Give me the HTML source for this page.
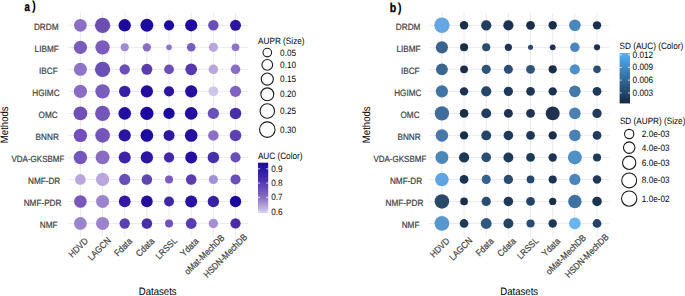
<!DOCTYPE html>
<html><head><meta charset="utf-8"><style>
html,body{margin:0;padding:0;background:#fff;}
svg{display:block;font-family:"Liberation Sans", sans-serif;text-rendering:geometricPrecision;}
</style></head><body>
<svg width="685" height="296" viewBox="0 0 685 296">
<rect width="685" height="296" fill="#fff"/>
<g stroke="#ebebeb" stroke-width="1" shape-rendering="auto"><line x1="67.40" y1="25.30" x2="248.00" y2="25.30" /><line x1="67.40" y1="47.32" x2="248.00" y2="47.32" /><line x1="67.40" y1="69.34" x2="248.00" y2="69.34" /><line x1="67.40" y1="91.36" x2="248.00" y2="91.36" /><line x1="67.40" y1="113.38" x2="248.00" y2="113.38" /><line x1="67.40" y1="135.40" x2="248.00" y2="135.40" /><line x1="67.40" y1="157.42" x2="248.00" y2="157.42" /><line x1="67.40" y1="179.44" x2="248.00" y2="179.44" /><line x1="67.40" y1="201.46" x2="248.00" y2="201.46" /><line x1="67.40" y1="223.48" x2="248.00" y2="223.48" /><line x1="80.40" y1="13.00" x2="80.40" y2="236.70" /><line x1="102.56" y1="13.00" x2="102.56" y2="236.70" /><line x1="124.72" y1="13.00" x2="124.72" y2="236.70" /><line x1="146.88" y1="13.00" x2="146.88" y2="236.70" /><line x1="169.04" y1="13.00" x2="169.04" y2="236.70" /><line x1="191.20" y1="13.00" x2="191.20" y2="236.70" /><line x1="213.36" y1="13.00" x2="213.36" y2="236.70" /><line x1="235.52" y1="13.00" x2="235.52" y2="236.70" /></g><circle cx="80.40" cy="25.30" r="6.35" fill="#8a6fc4"/><circle cx="102.56" cy="25.30" r="7.65" fill="#6a4fb0"/><circle cx="124.72" cy="25.30" r="6.18" fill="#1e0a9a"/><circle cx="146.88" cy="25.30" r="6.43" fill="#1a0aa0"/><circle cx="169.04" cy="25.30" r="5.08" fill="#1a0a9e"/><circle cx="191.20" cy="25.30" r="6.08" fill="#200c9c"/><circle cx="213.36" cy="25.30" r="5.20" fill="#6a4fb8"/><circle cx="235.52" cy="25.30" r="5.50" fill="#2e16a0"/><circle cx="80.40" cy="47.32" r="6.62" fill="#7a5cbc"/><circle cx="102.56" cy="47.32" r="7.17" fill="#7a5cbc"/><circle cx="124.72" cy="47.32" r="4.04" fill="#a08ad0"/><circle cx="146.88" cy="47.32" r="4.15" fill="#8a6cc4"/><circle cx="169.04" cy="47.32" r="2.81" fill="#8e74c8"/><circle cx="191.20" cy="47.32" r="4.27" fill="#7a5cbc"/><circle cx="213.36" cy="47.32" r="4.59" fill="#b8a6dc"/><circle cx="235.52" cy="47.32" r="3.86" fill="#8e72c8"/><circle cx="80.40" cy="69.34" r="6.51" fill="#8e74c8"/><circle cx="102.56" cy="69.34" r="7.65" fill="#6a4fb4"/><circle cx="124.72" cy="69.34" r="5.20" fill="#6a50b4"/><circle cx="146.88" cy="69.34" r="5.47" fill="#5a3caa"/><circle cx="169.04" cy="69.34" r="4.90" fill="#6a50b8"/><circle cx="191.20" cy="69.34" r="5.86" fill="#5438ac"/><circle cx="213.36" cy="69.34" r="4.74" fill="#b8a6dc"/><circle cx="235.52" cy="69.34" r="4.75" fill="#8a6cc4"/><circle cx="80.40" cy="91.36" r="6.65" fill="#8a6cc4"/><circle cx="102.56" cy="91.36" r="7.22" fill="#7a5cbc"/><circle cx="124.72" cy="91.36" r="5.72" fill="#3a20a4"/><circle cx="146.88" cy="91.36" r="6.14" fill="#240ea0"/><circle cx="169.04" cy="91.36" r="5.10" fill="#2c14a0"/><circle cx="191.20" cy="91.36" r="6.09" fill="#2410a0"/><circle cx="213.36" cy="91.36" r="4.93" fill="#d0c4e8"/><circle cx="235.52" cy="91.36" r="5.63" fill="#8060c0"/><circle cx="80.40" cy="113.38" r="6.90" fill="#6e50b8"/><circle cx="102.56" cy="113.38" r="7.51" fill="#7456b8"/><circle cx="124.72" cy="113.38" r="6.34" fill="#2410a0"/><circle cx="146.88" cy="113.38" r="6.63" fill="#1a08a0"/><circle cx="169.04" cy="113.38" r="5.63" fill="#1a0aa0"/><circle cx="191.20" cy="113.38" r="6.34" fill="#2410a0"/><circle cx="213.36" cy="113.38" r="5.60" fill="#6a50b8"/><circle cx="235.52" cy="113.38" r="5.75" fill="#4a30a8"/><circle cx="80.40" cy="135.40" r="6.70" fill="#7050b8"/><circle cx="102.56" cy="135.40" r="7.31" fill="#7456b8"/><circle cx="124.72" cy="135.40" r="6.10" fill="#2a14a0"/><circle cx="146.88" cy="135.40" r="6.33" fill="#1e0c9e"/><circle cx="169.04" cy="135.40" r="5.51" fill="#2e18a0"/><circle cx="191.20" cy="135.40" r="6.34" fill="#2410a0"/><circle cx="213.36" cy="135.40" r="5.25" fill="#8a70c4"/><circle cx="235.52" cy="135.40" r="5.77" fill="#5a40b0"/><circle cx="80.40" cy="157.42" r="6.71" fill="#7456bc"/><circle cx="102.56" cy="157.42" r="6.95" fill="#8a6cc4"/><circle cx="124.72" cy="157.42" r="6.03" fill="#3e22a8"/><circle cx="146.88" cy="157.42" r="6.15" fill="#2e16a0"/><circle cx="169.04" cy="157.42" r="5.14" fill="#4428a8"/><circle cx="191.20" cy="157.42" r="5.99" fill="#2410a0"/><circle cx="213.36" cy="157.42" r="5.75" fill="#4830a8"/><circle cx="235.52" cy="157.42" r="5.05" fill="#6a4eb8"/><circle cx="80.40" cy="179.44" r="5.34" fill="#b8a6dc"/><circle cx="102.56" cy="179.44" r="6.59" fill="#b8a6dc"/><circle cx="124.72" cy="179.44" r="5.60" fill="#6a4eb8"/><circle cx="146.88" cy="179.44" r="5.28" fill="#6044b0"/><circle cx="169.04" cy="179.44" r="4.02" fill="#7c5cbc"/><circle cx="191.20" cy="179.44" r="5.27" fill="#5a3cb0"/><circle cx="213.36" cy="179.44" r="4.55" fill="#a490d4"/><circle cx="235.52" cy="179.44" r="5.05" fill="#6a4eb8"/><circle cx="80.40" cy="201.46" r="6.32" fill="#7858bc"/><circle cx="102.56" cy="201.46" r="6.53" fill="#9c84cc"/><circle cx="124.72" cy="201.46" r="5.86" fill="#3418a4"/><circle cx="146.88" cy="201.46" r="5.84" fill="#240ea0"/><circle cx="169.04" cy="201.46" r="4.98" fill="#4028a8"/><circle cx="191.20" cy="201.46" r="6.00" fill="#2812a0"/><circle cx="213.36" cy="201.46" r="5.72" fill="#3a20a4"/><circle cx="235.52" cy="201.46" r="5.68" fill="#1a08a0"/><circle cx="80.40" cy="223.48" r="6.38" fill="#9c84cc"/><circle cx="102.56" cy="223.48" r="6.53" fill="#9c84cc"/><circle cx="124.72" cy="223.48" r="5.17" fill="#5a40b0"/><circle cx="146.88" cy="223.48" r="5.30" fill="#4a30a8"/><circle cx="169.04" cy="223.48" r="4.00" fill="#7050b8"/><circle cx="191.20" cy="223.48" r="5.42" fill="#5a3cb0"/><circle cx="213.36" cy="223.48" r="4.70" fill="#a48ed4"/><circle cx="235.52" cy="223.48" r="5.14" fill="#4a2ca8"/><g font-size="8.2" fill="#404040" stroke="#404040" stroke-width="0.18"><text transform="translate(33.90,29.60) scale(1,1.12)">DRDM</text><text transform="translate(34.60,51.62) scale(1,1.12)">LIBMF</text><text transform="translate(39.00,73.64) scale(1,1.12)">IBCF</text><text transform="translate(32.30,95.66) scale(1,1.12)">HGIMC</text><text transform="translate(38.60,117.68) scale(1,1.12)">OMC</text><text transform="translate(35.60,139.70) scale(1,1.12)">BNNR</text><text font-size="8.0" transform="translate(11.50,161.72) scale(1,1.12)">VDA-GKSBMF</text><text transform="translate(28.00,183.74) scale(1,1.12)">NMF-DR</text><text transform="translate(23.70,205.76) scale(1,1.12)">NMF-PDR</text><text transform="translate(39.80,227.78) scale(1,1.12)">NMF</text></g><g font-size="8.2" fill="#404040" stroke="#404040" stroke-width="0.18"><text text-anchor="end" transform="translate(88.64,241.63) rotate(-45) scale(1,1.12)">HDVD</text><text text-anchor="end" transform="translate(111.39,241.05) rotate(-45) scale(1,1.12)">LAGCN</text><text text-anchor="end" transform="translate(132.69,241.89) rotate(-45) scale(1,1.12)">Fdata</text><text text-anchor="end" transform="translate(154.96,241.78) rotate(-45) scale(1,1.12)">Cdata</text><text text-anchor="end" transform="translate(177.61,241.31) rotate(-45) scale(1,1.12)">LRSSL</text><text text-anchor="end" transform="translate(199.23,241.84) rotate(-45) scale(1,1.12)">Ydata</text><text text-anchor="end" transform="translate(225.04,238.27) rotate(-45) scale(1,1.12)">oMat-MechDB</text><text text-anchor="end" transform="translate(247.80,237.70) rotate(-45) scale(1,1.12)">HSDN-MechDB</text></g><g stroke="#ebebeb" stroke-width="1" shape-rendering="auto"><line x1="428.90" y1="25.30" x2="609.50" y2="25.30" /><line x1="428.90" y1="47.32" x2="609.50" y2="47.32" /><line x1="428.90" y1="69.34" x2="609.50" y2="69.34" /><line x1="428.90" y1="91.36" x2="609.50" y2="91.36" /><line x1="428.90" y1="113.38" x2="609.50" y2="113.38" /><line x1="428.90" y1="135.40" x2="609.50" y2="135.40" /><line x1="428.90" y1="157.42" x2="609.50" y2="157.42" /><line x1="428.90" y1="179.44" x2="609.50" y2="179.44" /><line x1="428.90" y1="201.46" x2="609.50" y2="201.46" /><line x1="428.90" y1="223.48" x2="609.50" y2="223.48" /><line x1="441.90" y1="13.00" x2="441.90" y2="236.70" /><line x1="464.06" y1="13.00" x2="464.06" y2="236.70" /><line x1="486.22" y1="13.00" x2="486.22" y2="236.70" /><line x1="508.38" y1="13.00" x2="508.38" y2="236.70" /><line x1="530.54" y1="13.00" x2="530.54" y2="236.70" /><line x1="552.70" y1="13.00" x2="552.70" y2="236.70" /><line x1="574.86" y1="13.00" x2="574.86" y2="236.70" /><line x1="597.02" y1="13.00" x2="597.02" y2="236.70" /></g><circle cx="441.90" cy="25.30" r="7.69" fill="#62a6e2"/><circle cx="464.06" cy="25.30" r="4.20" fill="#1a2e48"/><circle cx="486.22" cy="25.30" r="5.12" fill="#213c5c"/><circle cx="508.38" cy="25.30" r="5.11" fill="#1c3250"/><circle cx="530.54" cy="25.30" r="4.35" fill="#1a2e48"/><circle cx="552.70" cy="25.30" r="4.20" fill="#1a2e48"/><circle cx="574.86" cy="25.30" r="5.79" fill="#4a86bc"/><circle cx="597.02" cy="25.30" r="4.16" fill="#1a3250"/><circle cx="441.90" cy="47.32" r="6.09" fill="#3a6490"/><circle cx="464.06" cy="47.32" r="4.05" fill="#1a2e48"/><circle cx="486.22" cy="47.32" r="4.05" fill="#2a4c70"/><circle cx="508.38" cy="47.32" r="3.61" fill="#1e3654"/><circle cx="530.54" cy="47.32" r="2.55" fill="#2a4a6e"/><circle cx="552.70" cy="47.32" r="2.91" fill="#1c3250"/><circle cx="574.86" cy="47.32" r="4.74" fill="#4a86bc"/><circle cx="597.02" cy="47.32" r="3.06" fill="#1c3250"/><circle cx="441.90" cy="69.34" r="5.94" fill="#3a6690"/><circle cx="464.06" cy="69.34" r="3.90" fill="#1a2e48"/><circle cx="486.22" cy="69.34" r="4.56" fill="#2e5478"/><circle cx="508.38" cy="69.34" r="4.50" fill="#2a4e74"/><circle cx="530.54" cy="69.34" r="4.41" fill="#2e5478"/><circle cx="552.70" cy="69.34" r="4.05" fill="#1a2e48"/><circle cx="574.86" cy="69.34" r="5.11" fill="#5090c8"/><circle cx="597.02" cy="69.34" r="3.80" fill="#2a4e74"/><circle cx="441.90" cy="91.36" r="6.11" fill="#4074a4"/><circle cx="464.06" cy="91.36" r="4.21" fill="#1c3250"/><circle cx="486.22" cy="91.36" r="5.09" fill="#264668"/><circle cx="508.38" cy="91.36" r="4.62" fill="#1e3a5a"/><circle cx="530.54" cy="91.36" r="4.36" fill="#1e3654"/><circle cx="552.70" cy="91.36" r="4.21" fill="#1c3250"/><circle cx="574.86" cy="91.36" r="5.77" fill="#4478a8"/><circle cx="597.02" cy="91.36" r="4.37" fill="#1e3a5a"/><circle cx="441.90" cy="113.38" r="7.15" fill="#3e6e9c"/><circle cx="464.06" cy="113.38" r="4.35" fill="#1a2e48"/><circle cx="486.22" cy="113.38" r="4.92" fill="#203c5c"/><circle cx="508.38" cy="113.38" r="4.46" fill="#1c3250"/><circle cx="530.54" cy="113.38" r="4.36" fill="#1c3250"/><circle cx="552.70" cy="113.38" r="6.96" fill="#1c3250"/><circle cx="574.86" cy="113.38" r="5.78" fill="#4a80b2"/><circle cx="597.02" cy="113.38" r="4.62" fill="#203c5c"/><circle cx="441.90" cy="135.40" r="6.27" fill="#4678a8"/><circle cx="464.06" cy="135.40" r="4.15" fill="#1a2e48"/><circle cx="486.22" cy="135.40" r="4.94" fill="#264466"/><circle cx="508.38" cy="135.40" r="4.77" fill="#1e3a5a"/><circle cx="530.54" cy="135.40" r="4.37" fill="#1e3856"/><circle cx="552.70" cy="135.40" r="4.15" fill="#1a2e48"/><circle cx="574.86" cy="135.40" r="5.78" fill="#4a80b2"/><circle cx="597.02" cy="135.40" r="4.37" fill="#203c5c"/><circle cx="441.90" cy="157.42" r="6.49" fill="#4a86ba"/><circle cx="464.06" cy="157.42" r="5.12" fill="#1e3858"/><circle cx="486.22" cy="157.42" r="4.80" fill="#2a4e72"/><circle cx="508.38" cy="157.42" r="4.97" fill="#1e3a5a"/><circle cx="530.54" cy="157.42" r="4.37" fill="#1e3a5a"/><circle cx="552.70" cy="157.42" r="4.21" fill="#1c3454"/><circle cx="574.86" cy="157.42" r="6.96" fill="#5090c8"/><circle cx="597.02" cy="157.42" r="4.02" fill="#1e3a5a"/><circle cx="441.90" cy="179.44" r="6.79" fill="#5ea4e0"/><circle cx="464.06" cy="179.44" r="4.36" fill="#1c3454"/><circle cx="486.22" cy="179.44" r="4.58" fill="#36628e"/><circle cx="508.38" cy="179.44" r="4.65" fill="#2a4c70"/><circle cx="530.54" cy="179.44" r="3.89" fill="#264a6c"/><circle cx="552.70" cy="179.44" r="4.06" fill="#1c3454"/><circle cx="574.86" cy="179.44" r="5.64" fill="#4a86bc"/><circle cx="597.02" cy="179.44" r="4.22" fill="#1e3a5a"/><circle cx="441.90" cy="201.46" r="7.25" fill="#2a4a6c"/><circle cx="464.06" cy="201.46" r="3.85" fill="#1a2e48"/><circle cx="486.22" cy="201.46" r="4.65" fill="#2a4c70"/><circle cx="508.38" cy="201.46" r="4.77" fill="#1e3858"/><circle cx="530.54" cy="201.46" r="4.38" fill="#244466"/><circle cx="552.70" cy="201.46" r="3.60" fill="#1a2e48"/><circle cx="574.86" cy="201.46" r="6.71" fill="#3e72a2"/><circle cx="597.02" cy="201.46" r="4.76" fill="#1c3454"/><circle cx="441.90" cy="223.48" r="7.37" fill="#5896d0"/><circle cx="464.06" cy="223.48" r="4.37" fill="#1e3856"/><circle cx="486.22" cy="223.48" r="5.42" fill="#30587e"/><circle cx="508.38" cy="223.48" r="4.98" fill="#244466"/><circle cx="530.54" cy="223.48" r="4.05" fill="#2a4c70"/><circle cx="552.70" cy="223.48" r="4.22" fill="#1e3856"/><circle cx="574.86" cy="223.48" r="5.86" fill="#68b4f0"/><circle cx="597.02" cy="223.48" r="4.38" fill="#244466"/><g font-size="8.2" fill="#404040" stroke="#404040" stroke-width="0.18"><text transform="translate(395.80,29.60) scale(1,1.12)">DRDM</text><text transform="translate(396.50,51.62) scale(1,1.12)">LIBMF</text><text transform="translate(400.90,73.64) scale(1,1.12)">IBCF</text><text transform="translate(394.20,95.66) scale(1,1.12)">HGIMC</text><text transform="translate(400.50,117.68) scale(1,1.12)">OMC</text><text transform="translate(397.50,139.70) scale(1,1.12)">BNNR</text><text font-size="8.0" transform="translate(373.40,161.72) scale(1,1.12)">VDA-GKSBMF</text><text transform="translate(389.90,183.74) scale(1,1.12)">NMF-DR</text><text transform="translate(385.60,205.76) scale(1,1.12)">NMF-PDR</text><text transform="translate(401.70,227.78) scale(1,1.12)">NMF</text></g><g font-size="8.2" fill="#404040" stroke="#404040" stroke-width="0.18"><text text-anchor="end" transform="translate(450.14,241.63) rotate(-45) scale(1,1.12)">HDVD</text><text text-anchor="end" transform="translate(472.89,241.05) rotate(-45) scale(1,1.12)">LAGCN</text><text text-anchor="end" transform="translate(494.19,241.89) rotate(-45) scale(1,1.12)">Fdata</text><text text-anchor="end" transform="translate(516.46,241.78) rotate(-45) scale(1,1.12)">Cdata</text><text text-anchor="end" transform="translate(539.11,241.31) rotate(-45) scale(1,1.12)">LRSSL</text><text text-anchor="end" transform="translate(560.73,241.84) rotate(-45) scale(1,1.12)">Ydata</text><text text-anchor="end" transform="translate(586.54,238.27) rotate(-45) scale(1,1.12)">oMat-MechDB</text><text text-anchor="end" transform="translate(609.30,237.70) rotate(-45) scale(1,1.12)">HSDN-MechDB</text></g><text font-size="9.6" fill="#000" text-anchor="middle" transform="translate(7.50,124.80) rotate(-90) scale(1,1.12)">Methods</text><text font-size="9.6" fill="#000" text-anchor="middle" transform="translate(157.70,294.6) scale(1,1.12)">Datasets</text><text font-size="9.6" fill="#000" text-anchor="middle" transform="translate(369.50,124.80) rotate(-90) scale(1,1.12)">Methods</text><text font-size="9.6" fill="#000" text-anchor="middle" transform="translate(519.20,294.6) scale(1,1.12)">Datasets</text><text font-size="12.6" font-weight="bold" fill="#000" stroke="#000" stroke-width="0.35" transform="translate(24.5,10.600000000000001) scale(0.76,1)">a</text><text font-size="13.2" font-weight="bold" fill="#000" transform="translate(31.9,10.4) scale(0.88,1)">)</text><text font-size="12.9" font-weight="bold" fill="#000" stroke="#000" stroke-width="0.3" transform="translate(389.8,11.700000000000001) scale(0.82,1)">b</text><text font-size="13.2" font-weight="bold" fill="#000" transform="translate(397.8,11.5) scale(0.88,1)">)</text><text font-size="8.2" fill="#000" transform="translate(258.1,43.9) scale(1,1.12)">AUPR (Size)</text><circle cx="267.3" cy="52.6" r="4.30" fill="none" stroke="#1a1a1a" stroke-width="1.1"/><text font-size="8.2" fill="#000" transform="translate(280.1,55.60) scale(1,1.12)">0.05</text><circle cx="267.3" cy="64.9" r="5.35" fill="none" stroke="#1a1a1a" stroke-width="1.1"/><text font-size="8.2" fill="#000" transform="translate(280.1,67.90) scale(1,1.12)">0.10</text><circle cx="267.3" cy="79.1" r="6.05" fill="none" stroke="#1a1a1a" stroke-width="1.1"/><text font-size="8.2" fill="#000" transform="translate(280.1,82.10) scale(1,1.12)">0.15</text><circle cx="267.3" cy="94.3" r="6.45" fill="none" stroke="#1a1a1a" stroke-width="1.1"/><text font-size="8.2" fill="#000" transform="translate(280.1,97.30) scale(1,1.12)">0.20</text><circle cx="267.3" cy="111.0" r="7.25" fill="none" stroke="#1a1a1a" stroke-width="1.1"/><text font-size="8.2" fill="#000" transform="translate(280.1,114.00) scale(1,1.12)">0.25</text><circle cx="267.3" cy="129.6" r="7.75" fill="none" stroke="#1a1a1a" stroke-width="1.1"/><text font-size="8.2" fill="#000" transform="translate(280.1,132.60) scale(1,1.12)">0.30</text><text font-size="8.2" fill="#000" transform="translate(257.9,159.3) scale(1,1.12)">AUC (Color)</text><defs><linearGradient id="ga" x1="0" y1="0" x2="0" y2="1"><stop offset="0" stop-color="#1a0a9e"/><stop offset="0.35" stop-color="#4a30aa"/><stop offset="0.7" stop-color="#8a70c4"/><stop offset="1" stop-color="#d8d0ec"/></linearGradient><linearGradient id="gb" x1="0" y1="0" x2="0" y2="1"><stop offset="0" stop-color="#56b1f7"/><stop offset="1" stop-color="#132b43"/></linearGradient></defs><rect x="258" y="162.7" width="10.2" height="50.3" fill="url(#ga)"/><line x1="258" x2="260" y1="168.8" y2="168.8" stroke="#fff" stroke-width="0.8"/><line x1="266.2" x2="268.2" y1="168.8" y2="168.8" stroke="#fff" stroke-width="0.8"/><text font-size="8.2" fill="#000" transform="translate(271.2,171.80) scale(1,1.12)">0.9</text><line x1="258" x2="260" y1="183.1" y2="183.1" stroke="#fff" stroke-width="0.8"/><line x1="266.2" x2="268.2" y1="183.1" y2="183.1" stroke="#fff" stroke-width="0.8"/><text font-size="8.2" fill="#000" transform="translate(271.2,186.10) scale(1,1.12)">0.8</text><line x1="258" x2="260" y1="197.3" y2="197.3" stroke="#fff" stroke-width="0.8"/><line x1="266.2" x2="268.2" y1="197.3" y2="197.3" stroke="#fff" stroke-width="0.8"/><text font-size="8.2" fill="#000" transform="translate(271.2,200.30) scale(1,1.12)">0.7</text><line x1="258" x2="260" y1="211.6" y2="211.6" stroke="#fff" stroke-width="0.8"/><line x1="266.2" x2="268.2" y1="211.6" y2="211.6" stroke="#fff" stroke-width="0.8"/><text font-size="8.2" fill="#000" transform="translate(271.2,214.60) scale(1,1.12)">0.6</text><text font-size="8.2" fill="#000" transform="translate(619.5,49) scale(1,1.12)">SD (AUC) (Color)</text><rect x="619.6" y="53" width="10.4" height="50.4" fill="url(#gb)"/><line x1="619.6" x2="621.6" y1="54.8" y2="54.8" stroke="#fff" stroke-width="0.8"/><line x1="628" x2="630" y1="54.8" y2="54.8" stroke="#fff" stroke-width="0.8"/><text font-size="8.2" fill="#000" transform="translate(632.6,57.80) scale(1,1.12)">0.012</text><line x1="619.6" x2="621.6" y1="67.4" y2="67.4" stroke="#fff" stroke-width="0.8"/><line x1="628" x2="630" y1="67.4" y2="67.4" stroke="#fff" stroke-width="0.8"/><text font-size="8.2" fill="#000" transform="translate(632.6,70.40) scale(1,1.12)">0.009</text><line x1="619.6" x2="621.6" y1="80.1" y2="80.1" stroke="#fff" stroke-width="0.8"/><line x1="628" x2="630" y1="80.1" y2="80.1" stroke="#fff" stroke-width="0.8"/><text font-size="8.2" fill="#000" transform="translate(632.6,83.10) scale(1,1.12)">0.006</text><line x1="619.6" x2="621.6" y1="92.9" y2="92.9" stroke="#fff" stroke-width="0.8"/><line x1="628" x2="630" y1="92.9" y2="92.9" stroke="#fff" stroke-width="0.8"/><text font-size="8.2" fill="#000" transform="translate(632.6,95.90) scale(1,1.12)">0.003</text><text font-size="8.2" fill="#000" transform="translate(619.9,123.8) scale(1,1.12)">SD (AUPR) (Size)</text><circle cx="629.2" cy="134.0" r="4.65" fill="none" stroke="#1a1a1a" stroke-width="1.1"/><text font-size="8.2" fill="#000" transform="translate(641.8,137.00) scale(1,1.12)">2.0e-03</text><circle cx="629.2" cy="147.6" r="5.75" fill="none" stroke="#1a1a1a" stroke-width="1.1"/><text font-size="8.2" fill="#000" transform="translate(641.8,150.60) scale(1,1.12)">4.0e-03</text><circle cx="629.2" cy="162.8" r="6.65" fill="none" stroke="#1a1a1a" stroke-width="1.1"/><text font-size="8.2" fill="#000" transform="translate(641.8,165.80) scale(1,1.12)">6.0e-03</text><circle cx="629.2" cy="180.4" r="7.45" fill="none" stroke="#1a1a1a" stroke-width="1.1"/><text font-size="8.2" fill="#000" transform="translate(641.8,183.40) scale(1,1.12)">8.0e-03</text><circle cx="629.2" cy="198.6" r="7.65" fill="none" stroke="#1a1a1a" stroke-width="1.1"/><text font-size="8.2" fill="#000" transform="translate(641.8,201.60) scale(1,1.12)">1.0e-02</text>
</svg></body></html>
